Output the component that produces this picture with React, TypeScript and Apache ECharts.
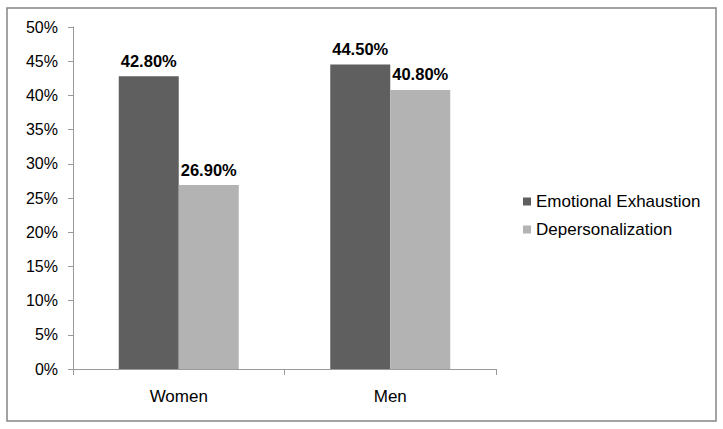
import React, { useEffect, useRef } from "react";
import * as echarts from "echarts";

const categories = ["Women", "Men"];
const emotionalExhaustion = [42.8, 44.5];
const depersonalization = [26.9, 40.8];
const seriesNames = ["Emotional Exhaustion", "Depersonalization"];

const FONT = "'Liberation Sans', Arial, sans-serif";

export default function App() {
  const ref = useRef<HTMLDivElement>(null);
  useEffect(() => {
    if (!ref.current) return;
    const chart = echarts.init(ref.current, undefined, { renderer: "svg" });
    const labelCfg = {
      show: true,
      position: "top",
      distance: 7,
      formatter: (p: any) => p.value.toFixed(2) + "%",
      fontFamily: FONT,
      fontWeight: "bold",
      fontSize: 16.5,
      color: "#000",
    };
    chart.setOption({
      animation: false,
      backgroundColor: "#fff",
      textStyle: { fontFamily: FONT },
      graphic: [
        {
          type: "rect",
          shape: { x: 7, y: 8, width: 709, height: 413 },
          style: { fill: "none", stroke: "#858585", lineWidth: 1.5 },
          silent: true,
        },
      ],
      grid: { left: 73, right: 227, top: 27, bottom: 60 },
      legend: {
        orient: "vertical",
        left: 518,
        top: 188,
        itemWidth: 8,
        itemHeight: 8,
        itemGap: 11,
        icon: "rect",
        textStyle: { fontFamily: FONT, fontSize: 17, color: "#000", padding: [0, 0, 0, 0] },
        data: seriesNames,
      },
      xAxis: {
        type: "category",
        data: categories,
        axisLine: { lineStyle: { color: "#9a9a9a", width: 1 } },
        axisTick: { show: true, length: 6, alignWithLabel: false, lineStyle: { color: "#9a9a9a" } },
        axisLabel: { fontFamily: FONT, fontSize: 17, color: "#000", margin: 19 },
      },
      yAxis: {
        type: "value",
        min: 0,
        max: 50,
        interval: 5,
        splitLine: { show: false },
        axisLine: { show: true, lineStyle: { color: "#9a9a9a", width: 1 } },
        axisTick: { show: true, length: 5, lineStyle: { color: "#9a9a9a" } },
        axisLabel: {
          formatter: (v: number) => v + "%",
          fontFamily: FONT,
          fontSize: 16,
          color: "#000",
          margin: 15,
        },
      },
      series: [
        {
          name: seriesNames[0],
          type: "bar",
          data: emotionalExhaustion,
          barWidth: 60,
          barGap: "0%",
          itemStyle: { color: "#5f5f5f" },
          label: labelCfg,
        },
        {
          name: seriesNames[1],
          type: "bar",
          data: depersonalization,
          barWidth: 60,
          barGap: "0%",
          itemStyle: { color: "#b3b3b3" },
          label: labelCfg,
        },
      ],
    });
    return () => chart.dispose();
  }, []);
  return (
    <div
      ref={ref}
      style={{ position: "absolute", left: 0, top: 0, width: 723, height: 429 }}
    />
  );
}
